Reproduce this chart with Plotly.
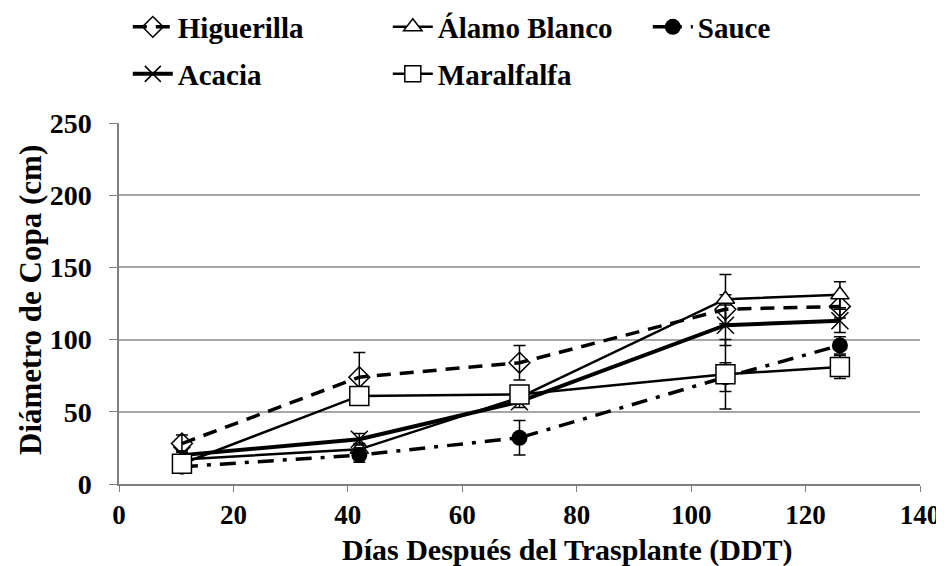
import plotly.graph_objects as go

days = [11, 42, 70, 106, 126]

higuerilla = [28, 74, 84, 121, 123]
higuerilla_err = [6, 17, 12, 10, 8]

alamo = [17, 24, 60, 128, 131]
alamo_err = [3, 4, 4, 17, 9]

sauce = [12, 20, 32, 74, 96]
sauce_err = [3, 5, 12, 10, 6]

acacia = [20, 31, 57, 110, 113]
acacia_err = [3, 4, 4, 14, 8]

maralfalfa = [14, 61, 62, 76, 81]
maralfalfa_err = [6, 5, 5, 24, 8]

x_ticks = [0, 20, 40, 60, 80, 100, 120, 140]
y_ticks = [0, 50, 100, 150, 200, 250]

x_title = "Días Después del Trasplante (DDT)"
y_title = "Diámetro de Copa (cm)"

FONT = "Liberation Serif"

def err(vals):
    return dict(type="data", array=vals, visible=True, color="black", thickness=1.5, width=6)

fig = go.Figure()

fig.add_trace(go.Scatter(
    x=days, y=higuerilla, name="Higuerilla", mode="lines+markers", legend="legend",
    line=dict(color="black", width=3.5, dash="14px,9px"),
    marker=dict(symbol="diamond-open", size=16, color="black", line=dict(width=1.5)),
    error_y=err(higuerilla_err)))

fig.add_trace(go.Scatter(
    x=days, y=alamo, name="Álamo Blanco", mode="lines+markers", legend="legend",
    line=dict(color="black", width=2.5),
    marker=dict(symbol="triangle-up", size=16, color="white", line=dict(width=1.5, color="black")),
    error_y=err(alamo_err)))

fig.add_trace(go.Scatter(
    x=days, y=sauce, name="Sauce", mode="lines+markers", legend="legend",
    line=dict(color="black", width=3.5, dash="16px,9px,4px,9px"),
    marker=dict(symbol="circle", size=16, color="black"),
    error_y=err(sauce_err)))

fig.add_trace(go.Scatter(
    x=days, y=acacia, name="Acacia", mode="lines+markers", legend="legend2",
    line=dict(color="black", width=4),
    marker=dict(symbol="x-thin-open", size=17, color="black", line=dict(width=1.5, color="black")),
    error_y=err(acacia_err)))

fig.add_trace(go.Scatter(
    x=days, y=maralfalfa, name="Maralfalfa", mode="lines+markers", legend="legend2",
    line=dict(color="black", width=2.5),
    marker=dict(symbol="square", size=19, color="white", line=dict(width=1.5, color="black")),
    error_y=err(maralfalfa_err)))

legend_common = dict(
    orientation="h", xref="container", yref="container",
    xanchor="left", yanchor="middle", entrywidth=205, entrywidthmode="pixels",
    font=dict(family=FONT, size=29, color="black", weight="bold"),
    bgcolor="rgba(0,0,0,0)", itemwidth=40)

W, H = 936, 558
L, T = 111, 115
PW, PH = 801, 361

fig.update_layout(
    width=W, height=H,
    paper_bgcolor="white", plot_bgcolor="white",
    margin=dict(l=L, r=W - L - PW, t=T, b=H - T - PH, autoexpand=False),
    font=dict(family=FONT, size=27, color="black", weight="bold"),
    legend=dict(x=0.128, y=1 - 19 / H, **legend_common),
    legend2=dict(x=0.128, y=1 - 66 / H, **legend_common),
    showlegend=True,
    annotations=[
        dict(text=x_title, xref="paper", yref="paper", x=(567 - 119) / PW, y=-(550 - 484) / PH,
             xanchor="center", yanchor="middle", showarrow=False,
             font=dict(family=FONT, size=30, color="black", weight="bold")),
        dict(text=y_title, xref="paper", yref="paper", x=-(119 - 30) / PW, y=(484 - 300) / PH,
             xanchor="center", yanchor="middle", showarrow=False, textangle=-90,
             font=dict(family=FONT, size=31, color="black", weight="bold")),
    ],
)

fig.update_xaxes(
    range=[0, 140], tickvals=x_ticks, ticktext=[str(v) for v in x_ticks],
    showgrid=False, zeroline=False, showline=True, linecolor="#7f7f7f", linewidth=1.5,
    ticks="outside", ticklen=6, tickcolor="#7f7f7f",
    tickfont=dict(family=FONT, size=27, color="black", weight="bold"))

fig.update_yaxes(
    range=[0, 250], tickvals=y_ticks, ticktext=[str(v) for v in y_ticks],
    showgrid=True, gridcolor="#a6a6a6", gridwidth=1.5, zeroline=False,
    showline=True, linecolor="#7f7f7f", linewidth=1.5,
    ticks="outside", ticklen=8, tickcolor="#7f7f7f", ticklabelstandoff=12,
    tickfont=dict(family=FONT, size=28, color="black", weight="bold"))

fig.write_html("out.html")
